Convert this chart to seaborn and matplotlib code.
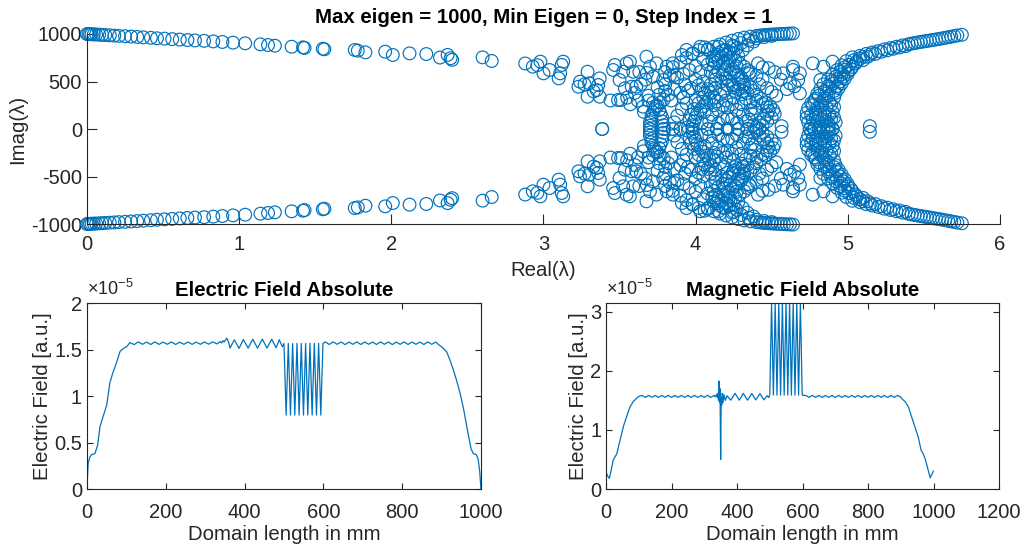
import numpy as np
import pandas as pd
import matplotlib
matplotlib.use("Agg")
import matplotlib.pyplot as plt
import seaborn as sns
from matplotlib.ticker import FuncFormatter

BLUE = "#0072BD"
INK = "#262626"

# ---------------------------------------------------------------------------
# Eigenvalues in the upper half plane (Real, Imag); the spectrum is closed
# under complex conjugation, so the lower half is added as the conjugates.
# ---------------------------------------------------------------------------
OUTER_BRANCH = [
    (0.00, 1000), (0.01, 999), (0.02, 998), (0.03, 997), (0.045, 996), (0.06, 995),
    (0.08, 993), (0.10, 991), (0.12, 989), (0.15, 986), (0.18, 983), (0.21, 980),
    (0.25, 977), (0.29, 973), (0.33, 969), (0.37, 965), (0.42, 960), (0.46, 955),
    (0.51, 951), (0.56, 946), (0.61, 941), (0.66, 936), (0.71, 932), (0.77, 928),
    (0.83, 922), (0.89, 916), (0.96, 909), (1.04, 902), (1.14, 891), (1.19, 884),
    (1.235, 877), (1.345, 866), (1.42, 860), (1.43, 853), (1.55, 845), (1.56, 839),
    (1.76, 832), (1.78, 825), (1.83, 807), (1.96, 814), (2.01, 779), (2.12, 796),
    (2.23, 789), (2.32, 752), (2.37, 780), (2.39, 745), (2.40, 728), (2.60, 754),
    (2.66, 716),
]

SCATTERED_MID = [
    (2.88, 690), (2.93, 656), (2.96, 672), (2.98, 709), (3.00, 586), (3.04, 621),
    (3.10, 533), (3.11, 586), (3.12, 674), (3.13, 709), (3.23, 445), (3.24, 498),
    (3.27, 470), (3.29, 603), (3.30, 481), (3.29, 340), (3.35, 410), (3.36, 463),
    (3.37, 340), (3.37, 533), (3.33, 395), (3.386, 0),
    (3.458, 621), (3.469, 674), (3.524, 603), (3.546, 691), (3.568, 709), (3.59, 603),
    (3.50, 516), (3.535, 428), (3.58, 445), (3.49, 305), (3.51, 305), (3.61, 445),
    (3.655, 235), (3.677, 761), (3.70, 656), (3.743, 691), (3.72, 551), (3.787, 516),
    (3.81, 656), (3.85, 691), (3.86, 568), (3.91, 779), (3.94, 832), (3.98, 797),
    (4.03, 866), (3.55, 330), (3.60, 380), (3.64, 470), (3.67, 520), (3.63, 600),
    (3.68, 590), (3.75, 440), (3.80, 470), (3.76, 360), (3.69, 350),
    (3.82, 360), (3.86, 420), (3.90, 380), (3.93, 470), (3.97, 430), (4.00, 520),
    (4.02, 460), (4.05, 500), (3.88, 540), (3.92, 580), (3.96, 620), (4.00, 660),
    (4.03, 600), (3.85, 650), (3.90, 700), (3.94, 750), (3.98, 790), (4.02, 830),
    (4.06, 860), (3.80, 600), (3.83, 560), (4.08, 420), (4.10, 380), (4.12, 330),
    (4.14, 290), (4.10, 470), (4.13, 520), (4.08, 832), (4.12, 761), (4.15, 866),
]

INNER_ARCS = [
    (3.70, 0), (3.70, 35), (3.70, 70), (3.71, 105), (3.71, 140), (3.72, 175),
    (3.73, 210), (3.75, 245), (3.77, 280), (3.79, 310), (3.79, 0), (3.79, 40),
    (3.78, 80), (3.78, 120), (3.77, 160), (3.76, 200), (3.74, 240), (3.72, 275),
    (3.69, 300),
    (3.85, 0), (3.90, 0), (3.86, 70), (3.88, 140), (3.91, 210), (3.94, 270),
    (3.98, 0), (3.98, 40), (3.99, 80), (4.00, 120), (4.01, 160), (4.03, 200),
    (4.05, 240), (4.07, 280), (4.09, 320), (3.95, 20), (3.96, 90), (3.97, 150),
    (3.99, 210), (4.02, 270), (4.05, 330), (4.06, 380),
    (4.21, 0), (4.14, 0), (4.28, 0), (4.15, 60), (4.27, 60), (4.18, 105),
    (4.24, 105), (4.21, 115), (4.08, 0), (4.34, 0), (4.09, 80), (4.33, 80),
    (4.11, 150), (4.31, 150), (4.15, 200), (4.27, 200), (4.21, 225),
    (4.42, 0), (4.44, 40), (4.47, 80), (4.50, 120), (4.52, 160), (4.51, 200),
    (4.49, 240), (4.46, 280), (4.43, 320), (4.40, 360), (4.38, 400), (4.36, 440),
    (4.40, 20), (4.42, 70), (4.45, 110), (4.47, 150), (4.48, 190), (4.47, 230),
    (4.44, 265), (4.35, 100), (4.37, 160), (4.39, 220), (4.36, 280), (4.33, 320),
    (4.30, 260), (4.38, 40),
]

CENTRAL_COLUMN = [
    (4.15, 720), (4.18, 690), (4.21, 660), (4.24, 630), (4.26, 600), (4.28, 570),
    (4.30, 540), (4.31, 505), (4.32, 470), (4.32, 435), (4.31, 400), (4.30, 365),
    (4.12, 650), (4.15, 610), (4.18, 575), (4.20, 540), (4.22, 505), (4.24, 470),
    (4.25, 435), (4.26, 400), (4.20, 780), (4.23, 750), (4.26, 720), (4.29, 690),
    (4.32, 655), (4.34, 620), (4.35, 580), (4.18, 830), (4.22, 810), (4.25, 790),
    (4.28, 770), (4.13, 560), (4.10, 600), (4.08, 680), (4.05, 740),
    (4.08, 840), (4.12, 866), (4.16, 890), (4.20, 910), (4.24, 930), (4.28, 948),
    (4.32, 962), (4.36, 972), (4.40, 980), (4.44, 987), (4.48, 992), (4.52, 996),
    (4.56, 1000), (4.60, 1003), (4.64, 1006), (4.15, 800), (4.20, 830), (4.25, 870),
    (4.30, 905), (4.35, 935), (4.40, 955), (4.45, 968), (4.50, 980),
]

DENSE_FILL = [
    (4.13, 700), (4.17, 760), (4.22, 720), (4.27, 660), (4.19, 620), (4.23, 580),
    (4.28, 520), (4.17, 500), (4.21, 460), (4.29, 470), (4.27, 850), (4.31, 830),
    (4.34, 880), (4.38, 920), (4.24, 880), (4.14, 780), (4.11, 720),
    (4.42, 983), (4.46, 990), (4.50, 994), (4.54, 998), (4.58, 1001), (4.62, 1004),
    (3.92, 330), (3.95, 400), (4.00, 300), (4.04, 420), (4.13, 430), (4.16, 360),
    (4.20, 300), (4.25, 330), (4.18, 250), (4.24, 260), (4.12, 250), (4.06, 180),
    (4.04, 60), (4.36, 200), (4.34, 380), (4.40, 300), (4.28, 420), (4.19, 400),
    (3.66, 180), (3.62, 300), (3.57, 260), (3.44, 300), (3.80, 400), (3.84, 300),
]

GAP_POINTS = [
    (4.41, 691), (4.36, 600), (4.40, 560), (4.44, 520), (4.42, 470), (4.47, 430),
    (4.50, 390), (4.53, 350), (4.575, 586), (4.64, 621), (4.685, 586), (4.674, 516),
    (4.62, 481), (4.685, 375), (4.60, 420), (4.65, 450), (4.56, 520), (4.52, 600),
    (4.48, 640), (4.44, 650), (4.565, 30), (4.77, 691), (4.84, 656), (4.82, 516),
    (4.90, 709), (4.64, 656), (5.145, 30),
]

RIGHT_BRANCH = [
    (4.78, 0), (4.84, 0), (4.90, 0), (4.76, 30), (4.82, 30), (4.88, 40),
    (4.74, 70), (4.80, 80), (4.86, 80), (4.92, 70), (4.73, 120), (4.79, 120),
    (4.85, 130), (4.91, 120), (4.73, 170), (4.79, 170), (4.85, 175), (4.90, 180),
    (4.74, 220), (4.80, 220), (4.86, 225), (4.91, 230), (4.76, 270), (4.82, 275),
    (4.88, 280), (4.79, 320), (4.85, 325), (4.91, 330), (4.80, 370), (4.86, 375),
    (4.92, 380), (4.82, 420), (4.88, 425), (4.94, 430), (4.84, 470), (4.90, 475),
    (4.96, 480), (4.87, 520), (4.93, 525), (4.98, 530), (4.90, 570), (4.96, 575),
    (5.00, 580), (4.93, 620), (4.98, 625), (5.02, 630), (4.96, 670), (5.01, 675),
    (5.05, 690), (4.99, 715), (5.04, 725), (5.08, 740), (5.03, 755), (5.08, 770),
    (5.12, 790), (5.16, 805), (5.20, 820), (5.24, 838), (5.28, 852), (5.32, 866),
    (5.36, 880), (5.40, 893), (5.44, 905), (5.48, 916), (5.52, 927), (5.56, 938),
    (5.60, 948), (5.64, 960), (5.68, 972), (5.72, 985), (5.75, 992),
    (5.10, 760), (5.15, 785), (5.22, 812), (5.30, 845), (5.38, 872),
    (4.75, 0), (4.81, 15), (4.87, 20), (4.77, 100), (4.83, 100), (4.89, 100),
    (4.76, 150), (4.82, 150), (4.88, 150), (4.77, 250), (4.83, 250), (4.89, 255),
    (4.78, 300), (4.84, 300), (4.81, 350), (4.87, 350), (4.85, 400), (4.91, 400),
    (4.87, 450), (4.93, 450), (4.89, 500), (4.95, 500), (4.92, 550), (4.97, 550),
    (4.95, 600), (5.00, 605), (4.98, 650), (5.03, 655), (5.06, 710), (5.10, 725),
    (5.13, 760), (5.18, 790), (5.26, 828), (5.34, 858),
    (5.42, 899), (5.46, 911), (5.50, 922), (5.54, 932), (5.58, 943), (5.62, 954),
    (5.66, 966), (5.70, 978),
]

# ---------------------------------------------------------------------------
# Field magnitudes along the domain (position in mm, value in units of 1e-5)
# ---------------------------------------------------------------------------
E_MM = [
    0, 3, 8, 12, 20, 27, 33, 41, 50, 58, 65, 71, 78, 84, 92, 101, 109,
    120, 130, 141, 151, 162, 172, 183, 193, 204, 214, 225, 235, 246, 256, 267,
    277, 288, 298, 309, 319, 330, 338,
    342, 345, 348, 351, 355, 359, 363,
    374, 386, 397, 409, 421, 433, 445, 457, 469, 480, 488, 496, 500,
    505.5, 511, 516.5, 522, 527.5, 533, 538.5, 544, 549.5, 555, 560.5, 566,
    571.5, 577, 582.5, 588, 593.5, 599,
    605, 615, 625, 635, 645, 655, 665, 675, 685, 695, 705, 715, 725, 735, 745,
    755, 765, 775, 785, 795, 805, 815, 825, 835, 845, 855, 865, 875, 885,
    892, 898, 904, 913, 921, 930, 938, 947, 955, 962, 968, 975, 981, 988, 993,
    997, 1000,
]
E_ABS = [
    0.00, 0.28, 0.35, 0.37, 0.38, 0.47, 0.67, 0.78, 0.90, 1.14, 1.24, 1.31, 1.40,
    1.48, 1.51, 1.53, 1.575,
    1.553, 1.582, 1.556, 1.580, 1.554, 1.582, 1.555, 1.580, 1.556, 1.581, 1.554,
    1.579, 1.556, 1.581, 1.555, 1.580, 1.556, 1.581, 1.557, 1.582, 1.560, 1.585,
    1.570, 1.595, 1.580, 1.600, 1.622, 1.585, 1.515,
    1.605, 1.512, 1.608, 1.515, 1.610, 1.514, 1.612, 1.516, 1.610, 1.518, 1.605,
    1.530, 1.565,
    0.795, 1.565, 0.795, 1.565, 0.795, 1.565, 0.795, 1.565, 0.795, 1.565, 0.795,
    1.565, 0.795, 1.565, 0.795, 1.565, 0.795, 1.565,
    1.581, 1.554, 1.582, 1.556, 1.581, 1.553, 1.580, 1.556, 1.582, 1.554, 1.581,
    1.556, 1.580, 1.554, 1.582, 1.556, 1.581, 1.553, 1.580, 1.556, 1.582, 1.554,
    1.581, 1.556, 1.580, 1.554, 1.582, 1.556, 1.581,
    1.555, 1.535, 1.515, 1.475, 1.39, 1.28, 1.17, 1.03, 0.88, 0.72, 0.58, 0.43,
    0.38, 0.37, 0.32, 0.18, 0.00,
]

H_MM = [
    0, 5, 10, 16, 22, 33, 43, 53, 63, 73, 83, 92, 100,
    110, 120, 130, 140, 150, 160, 170, 180, 190, 200, 210, 220, 230, 240, 250,
    260, 270, 280, 290, 300, 310, 320, 330,
    334, 337, 340, 342, 343.5, 345, 346.5, 348, 350, 351.5, 353, 355, 357, 360,
    364, 369,
    381, 394, 407, 419, 432, 445, 457, 470, 482, 492, 497, 500,
    505.5, 511, 516.5, 522, 527.5, 533, 538.5, 544, 549.5, 555, 560.5, 566,
    571.5, 577, 582.5, 588, 593.5, 599,
    610, 620, 630, 640, 650, 660, 670, 680, 690, 700, 710, 720, 730, 740, 750,
    760, 770, 780, 790, 800, 810, 820, 830, 840, 850, 860, 870, 880, 890,
    898, 905, 913, 923, 933, 943, 953, 962, 968, 974, 981, 986, 990, 994, 1000,
]
H_ABS = [
    0.29, 0.22, 0.18, 0.33, 0.49, 0.60, 0.83, 1.06, 1.23, 1.39, 1.48, 1.53, 1.57,
    1.585, 1.552, 1.586, 1.553, 1.584, 1.552, 1.585, 1.553, 1.586, 1.552, 1.585,
    1.553, 1.584, 1.552, 1.586, 1.553, 1.585, 1.552, 1.584, 1.553, 1.586, 1.552,
    1.585,
    1.56, 1.60, 1.55, 1.62, 1.50, 1.83, 1.47, 1.70, 0.50, 1.55, 1.42, 1.62, 1.46,
    1.60, 1.50, 1.58,
    1.505, 1.620, 1.505, 1.620, 1.505, 1.618, 1.508, 1.615, 1.510, 1.580, 1.550,
    1.600,
    3.15, 1.59, 3.15, 1.59, 3.15, 1.59, 3.15, 1.59, 3.15, 1.59, 3.15, 1.59,
    3.15, 1.59, 3.15, 1.59, 3.15, 1.59,
    1.584, 1.552, 1.585, 1.553, 1.586, 1.552, 1.584, 1.553, 1.585, 1.552, 1.586,
    1.553, 1.584, 1.552, 1.585, 1.553, 1.586, 1.552, 1.584, 1.553, 1.585, 1.552,
    1.586, 1.553, 1.584, 1.552, 1.585, 1.553, 1.584,
    1.565, 1.52, 1.48, 1.395, 1.225, 1.056, 0.886, 0.66, 0.60, 0.52, 0.378, 0.27,
    0.19, 0.237, 0.305,
]

TOP_TITLE = "Max eigen = 1000, Min Eigen = 0, Step Index = 1"
REAL_TICKS = [0, 1, 2, 3, 4, 5, 6]
IMAG_TICKS = [-1000, -500, 0, 500, 1000]
E_TICKS = [0, 0.5, 1, 1.5, 2]
H_TICKS = [0, 1, 2, 3]
MM_TICKS_E = [0, 200, 400, 600, 800, 1000]
MM_TICKS_H = [0, 200, 400, 600, 800, 1000, 1200]

# ---------------------------------------------------------------------------
sns.set_theme(style="ticks")
plt.rcParams.update({
    "font.family": ["Liberation Sans", "DejaVu Sans"],
    "font.size": 14.5,
    "axes.edgecolor": INK,
    "axes.labelcolor": INK,
    "axes.linewidth": 0.8,
    "xtick.color": INK,
    "ytick.color": INK,
    "xtick.direction": "in",
    "ytick.direction": "in",
    "xtick.labelsize": 14.5,
    "ytick.labelsize": 14.5,
    "axes.labelsize": 14.7,
    "mathtext.default": "regular",
})

upper = (OUTER_BRANCH + SCATTERED_MID + INNER_ARCS + CENTRAL_COLUMN + DENSE_FILL
         + GAP_POINTS + RIGHT_BRANCH)
eig = pd.DataFrame(upper, columns=["re", "im"])
eig = pd.concat([eig, eig.assign(im=-eig["im"])], ignore_index=True)

e_df = pd.DataFrame({"mm": E_MM, "val": E_ABS})
h_df = pd.DataFrame({"mm": H_MM, "val": H_ABS})

fig = plt.figure(figsize=(10.22, 5.44), dpi=100)
ax_eig = fig.add_axes([0.0851, 0.5882, 0.8933, 0.3493])
ax_e = fig.add_axes([0.0851, 0.1011, 0.3855, 0.3419])
ax_h = fig.add_axes([0.5930, 0.1011, 0.3845, 0.3419])

fmt = FuncFormatter(lambda v, p: f"{v:g}")

# --- eigenvalue spectrum ---------------------------------------------------
sns.scatterplot(data=eig, x="re", y="im", ax=ax_eig, marker="o", s=84,
                facecolor="none", edgecolor=BLUE, linewidth=0.85, legend=False)
pts = ax_eig.collections[0]
pts.set_facecolor("none")
pts.set_edgecolor(BLUE)
pts.set_clip_on(False)
ax_eig.set_xlim(0, 6)
ax_eig.set_ylim(-1000, 1000)
ax_eig.set_xticks(REAL_TICKS)
ax_eig.set_yticks(IMAG_TICKS)
ax_eig.xaxis.set_major_formatter(fmt)
ax_eig.yaxis.set_major_formatter(fmt)
ax_eig.spines["top"].set_visible(False)
ax_eig.spines["right"].set_visible(False)
ax_eig.tick_params(length=7, width=0.8)
ax_eig.tick_params(axis="x", pad=8)
ax_eig.tick_params(axis="y", pad=3.5)
ax_eig.set_xlabel("Real(λ)", labelpad=5)
ax_eig.set_ylabel("Imag(λ)", labelpad=3)
ax_eig.set_title(TOP_TITLE, fontsize=14.7, fontweight="bold", color="black", pad=8)

# --- field magnitudes ------------------------------------------------------
panels = [
    (ax_e, e_df, "Electric Field Absolute", (0, 2), E_TICKS, (0, 1000), MM_TICKS_E),
    (ax_h, h_df, "Magnetic Field Absolute", (0, 3.15), H_TICKS, (0, 1200), MM_TICKS_H),
]
for ax, df, title, ylim, yt, xlim, xt in panels:
    sns.lineplot(data=df, x="mm", y="val", ax=ax, color=BLUE, linewidth=0.9,
                 estimator=None, sort=False)
    ax.set_xlim(*xlim)
    ax.set_ylim(*ylim)
    ax.set_xticks(xt)
    ax.set_yticks(yt)
    ax.xaxis.set_major_formatter(fmt)
    ax.yaxis.set_major_formatter(fmt)
    ax.tick_params(top=True, right=True, length=4, width=0.8)
    ax.tick_params(axis="x", pad=10)
    ax.tick_params(axis="y", pad=3.5)
    ax.set_xlabel("Domain length in mm", labelpad=2)
    ax.set_ylabel("Electric Field [a.u.]", labelpad=1.5)
    ax.set_title(title, fontsize=14.7, fontweight="bold", color="black", pad=5)
    ax.annotate(r"$\times10^{-5}$", xy=(0, 1), xycoords="axes fraction",
                xytext=(0, 3), textcoords="offset points",
                ha="left", va="bottom", fontsize=13, color=INK)

fig.savefig("out.png", dpi=100)
